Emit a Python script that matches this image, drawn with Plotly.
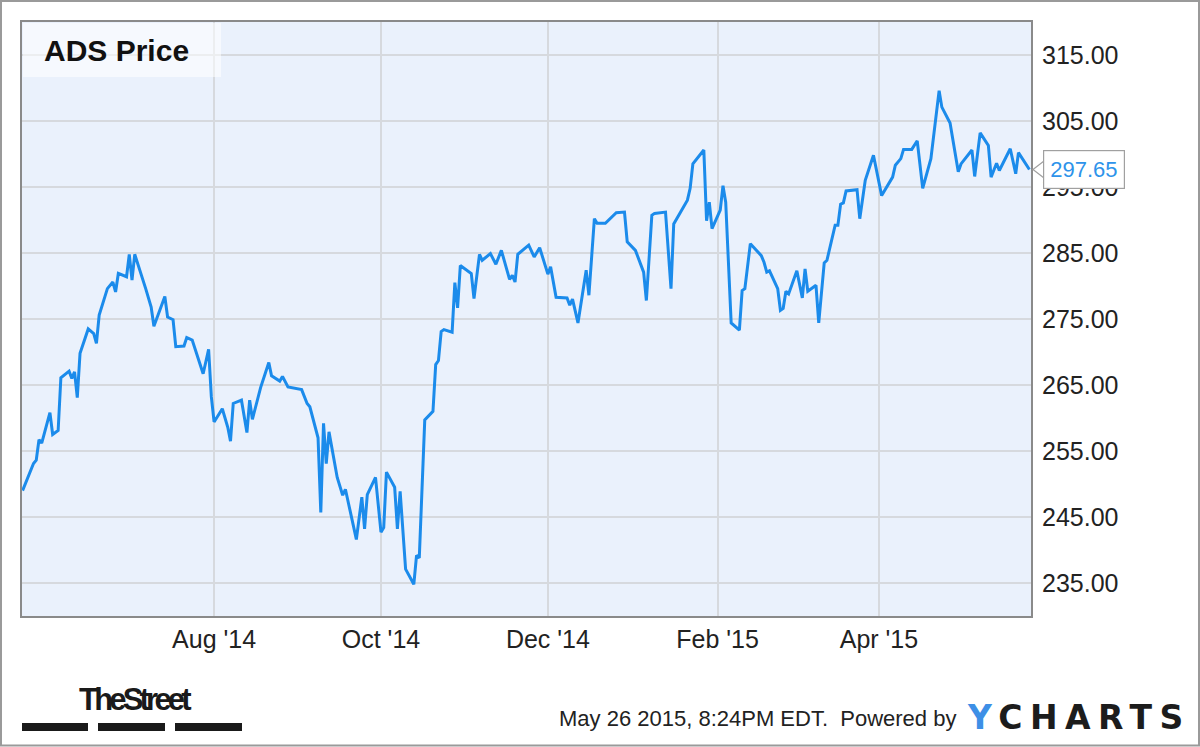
import plotly.graph_objects as go

# ADS daily close (May 2014 - May 2015)
dates = [
    "2014-05-23", "2014-05-27", "2014-05-28", "2014-05-29", "2014-05-30",
    "2014-06-02", "2014-06-03", "2014-06-05", "2014-06-06", "2014-06-09",
    "2014-06-10", "2014-06-11", "2014-06-12", "2014-06-13", "2014-06-16",
    "2014-06-18", "2014-06-19", "2014-06-20", "2014-06-23", "2014-06-25",
    "2014-06-26", "2014-06-27", "2014-06-30", "2014-07-01", "2014-07-02",
    "2014-07-03", "2014-07-07", "2014-07-09", "2014-07-10", "2014-07-14",
    "2014-07-15", "2014-07-17", "2014-07-18", "2014-07-21", "2014-07-22",
    "2014-07-24", "2014-07-28", "2014-07-30", "2014-07-31", "2014-08-01",
    "2014-08-04", "2014-08-06", "2014-08-07", "2014-08-08", "2014-08-11",
    "2014-08-13", "2014-08-14", "2014-08-15", "2014-08-18", "2014-08-21",
    "2014-08-22", "2014-08-25", "2014-08-26", "2014-08-28", "2014-09-02",
    "2014-09-04", "2014-09-05", "2014-09-08", "2014-09-09", "2014-09-10",
    "2014-09-11", "2014-09-12", "2014-09-15", "2014-09-17", "2014-09-18",
    "2014-09-22", "2014-09-24", "2014-09-25", "2014-09-26", "2014-09-29",
    "2014-10-01", "2014-10-02", "2014-10-03", "2014-10-06", "2014-10-07",
    "2014-10-08", "2014-10-10", "2014-10-13", "2014-10-14", "2014-10-15",
    "2014-10-17", "2014-10-20", "2014-10-21", "2014-10-22", "2014-10-23",
    "2014-10-24", "2014-10-27", "2014-10-28", "2014-10-29", "2014-10-30",
    "2014-11-03", "2014-11-04", "2014-11-06", "2014-11-07", "2014-11-10",
    "2014-11-12", "2014-11-14", "2014-11-17", "2014-11-18", "2014-11-19",
    "2014-11-20", "2014-11-24", "2014-11-26", "2014-11-28", "2014-12-01",
    "2014-12-02", "2014-12-04", "2014-12-08", "2014-12-09", "2014-12-10",
    "2014-12-12", "2014-12-15", "2014-12-16", "2014-12-18", "2014-12-19",
    "2014-12-22", "2014-12-26", "2014-12-29", "2014-12-30", "2015-01-02",
    "2015-01-05", "2015-01-06", "2015-01-08", "2015-01-09", "2015-01-13",
    "2015-01-15", "2015-01-16", "2015-01-21", "2015-01-22", "2015-01-23",
    "2015-01-27", "2015-01-28", "2015-01-29", "2015-01-30", "2015-02-02",
    "2015-02-03", "2015-02-04", "2015-02-06", "2015-02-09", "2015-02-10",
    "2015-02-11", "2015-02-13", "2015-02-17", "2015-02-18", "2015-02-19",
    "2015-02-20", "2015-02-23", "2015-02-24", "2015-02-25", "2015-02-26",
    "2015-02-27", "2015-03-02", "2015-03-04", "2015-03-05", "2015-03-06",
    "2015-03-09", "2015-03-10", "2015-03-12", "2015-03-13", "2015-03-16",
    "2015-03-17", "2015-03-18", "2015-03-19", "2015-03-20", "2015-03-24",
    "2015-03-25", "2015-03-27", "2015-03-30", "2015-04-02", "2015-04-06",
    "2015-04-07", "2015-04-09", "2015-04-10", "2015-04-13", "2015-04-15",
    "2015-04-17", "2015-04-20", "2015-04-23", "2015-04-24", "2015-04-27",
    "2015-04-30", "2015-05-01", "2015-05-05", "2015-05-06", "2015-05-08",
    "2015-05-11", "2015-05-12", "2015-05-14", "2015-05-15", "2015-05-19",
    "2015-05-21", "2015-05-22", "2015-05-26",
]
prices = [
    249.0, 253.1, 253.6, 256.7, 256.2,
    260.8, 257.5, 258.1, 266.1, 267.1,
    266.0, 267.0, 263.1, 269.8, 273.5,
    272.8, 271.3, 275.6, 279.6, 280.6,
    279.1, 281.9, 281.4, 284.8, 280.9,
    284.8, 279.6, 276.8, 273.9, 278.4,
    275.3, 274.9, 270.8, 270.9, 272.2,
    271.8, 266.7, 270.4, 263.2, 259.4,
    261.4, 258.6, 256.5, 262.2, 262.7,
    257.8, 262.7, 259.8, 264.6, 268.4,
    266.4, 265.6, 266.3, 264.7, 264.3,
    262.2, 261.7, 257.0, 245.7, 259.2,
    253.1, 257.9, 251.0, 248.3, 249.2,
    241.6, 248.0, 243.2, 248.4, 251.0,
    242.7, 243.4, 251.8, 249.5, 243.2,
    248.9, 237.1, 234.8, 239.2, 238.8,
    259.7, 261.0, 268.1, 268.7, 273.1,
    273.4, 273.0, 280.5, 276.7, 283.1,
    281.9, 278.1, 284.8, 283.9, 284.9,
    283.3, 285.4, 281.0, 281.6, 280.6,
    284.8, 286.2, 284.4, 285.8, 281.8,
    282.9, 278.3, 278.2, 277.1, 278.0,
    274.4, 282.4, 278.6, 290.2, 289.5,
    289.5, 291.1, 291.2, 286.7, 285.4,
    282.1, 277.8, 290.7, 291.0, 291.2,
    279.6, 289.4, 293.0, 294.8, 298.5,
    300.6, 289.9, 292.7, 288.7, 291.5,
    295.2, 292.7, 274.4, 273.3, 279.3,
    279.6, 286.4, 284.6, 283.6, 282.1,
    282.3, 279.6, 276.3, 276.6, 279.2,
    278.8, 282.3, 278.2, 282.6, 279.2,
    280.1, 274.4, 283.5, 283.9, 289.2,
    289.2, 292.4, 292.6, 294.4, 294.6,
    290.2, 296.0, 299.8, 293.7, 296.5,
    298.3, 299.3, 300.7, 300.7, 302.0,
    294.8, 299.3, 309.6, 307.1, 304.7,
    297.3, 298.5, 300.6, 296.6, 303.2,
    301.3, 296.5, 298.6, 297.5, 300.8,
    297.0, 300.2, 297.65,
]

x_ticks = ["2014-08-01", "2014-10-01", "2014-12-01", "2015-02-01", "2015-04-01"]
x_tick_labels = ["Aug '14", "Oct '14", "Dec '14", "Feb '15", "Apr '15"]
y_ticks = [235, 245, 255, 265, 275, 285, 295, 305, 315]
y_tick_labels = ["%.2f" % v for v in y_ticks]

last_price = prices[-1]
title = "ADS Price"
stamp = "May 26 2015, 8:24PM EDT.  Powered by"

W, H = 1200, 747
L, T, R, B = 22, 22, 1031, 616  # plot area in pixels


def px(x):
    return (x - L) / (R - L)


def py(y):
    return (B - y) / (B - T)


LINE_BLUE = "#1b8beb"
FONT = "Liberation Sans, Arial, sans-serif"

fig = go.Figure()
fig.add_trace(go.Scatter(
    x=dates, y=prices, mode="lines",
    line=dict(color=LINE_BLUE, width=3),
    hoverinfo="x+y", showlegend=False,
))

shapes = [
    # outer frame of the image
    dict(type="rect", xref="paper", yref="paper",
         x0=px(1), x1=px(1199), y0=py(745.5), y1=py(1),
         line=dict(color="#9a9a9a", width=2), fillcolor="rgba(0,0,0,0)", layer="above"),
    # translucent title box
    dict(type="rect", xref="paper", yref="paper",
         x0=px(L + 1), x1=px(221), y0=py(77), y1=py(T + 1),
         line=dict(width=0), fillcolor="rgba(255,255,255,0.55)", layer="above"),
    # pointer of the last-value tag
    dict(type="path", xref="paper", yref="y",
         path="M %f,%f L %f,%f L %f,%f Z" % (
             px(R + 2), last_price, px(1044), last_price + 1.3, px(1044), last_price - 1.3),
         line=dict(color="#a0a0a0", width=1.2), fillcolor="white", layer="above"),
]
# TheStreet underline bars
for bx0, bx1 in [(22, 88), (98, 165), (175, 242)]:
    shapes.append(dict(type="rect", xref="paper", yref="paper",
                       x0=px(bx0), x1=px(bx1), y0=py(731), y1=py(723),
                       line=dict(width=0), fillcolor="#1a1a1a"))

annotations = [
    dict(text="<b>%s</b>" % title, xref="paper", yref="paper",
         x=px(42), y=py(50), xanchor="left", yanchor="middle", showarrow=False,
         font=dict(family=FONT, size=30, color="#111")),
    dict(text=f"{last_price:.2f}", xref="paper", yref="y", x=px(1043), y=last_price,
         xanchor="left", yanchor="middle", showarrow=False,
         font=dict(family=FONT, size=22, color="#2e93ea"),
         bgcolor="white", bordercolor="#a0a0a0", borderwidth=1.2, borderpad=6),
    dict(text="<b><span style='letter-spacing:-3.8px'>TheStreet</span></b>",
         xref="paper", yref="paper", x=px(77), y=py(699),
         xanchor="left", yanchor="middle", showarrow=False,
         font=dict(family=FONT, size=31, color="#1a1a1a")),
    dict(text=stamp, xref="paper", yref="paper", x=px(958), y=py(718),
         xanchor="right", yanchor="middle", showarrow=False,
         font=dict(family=FONT, size=22, color="#222")),
    dict(text="<b><span style='letter-spacing:7.5px'><span style='color:#3d8fe6'>Y</span>CHARTS</span></b>",
         xref="paper", yref="paper",
         x=px(965), y=py(717), xanchor="left", yanchor="middle", showarrow=False,
         font=dict(family="DejaVu Sans, " + FONT, size=33, color="#1c1c1c")),
]

fig.update_layout(
    width=W, height=H,
    margin=dict(l=L, r=W - R, t=T, b=H - B, pad=0),
    paper_bgcolor="white",
    plot_bgcolor="#eaf1fc",
    font=dict(family=FONT, color="#222"),
    shapes=shapes,
    annotations=annotations,
    xaxis=dict(
        type="date",
        range=["2014-05-22 19:00", "2015-05-26 14:00"],
        tickvals=x_ticks, ticktext=x_tick_labels,
        tickfont=dict(size=25, color="#222"),
        showgrid=True, gridcolor="#d6d9de", gridwidth=1.5,
        showline=True, linecolor="#8a8a8a", linewidth=2, mirror=True,
        ticks="", zeroline=False,
    ),
    yaxis=dict(
        range=[230, 320], side="right",
        tickvals=y_ticks, ticktext=y_tick_labels,
        tickfont=dict(size=25, color="#222"),
        showgrid=True, gridcolor="#d6d9de", gridwidth=1.5,
        showline=True, linecolor="#8a8a8a", linewidth=2, mirror=True,
        ticks="outside", ticklen=4, tickcolor="rgba(0,0,0,0)", zeroline=False,
    ),
)

# drop the default page margin so the figure sits at the window's corner
fig.write_html("out.html", config={"displayModeBar": False},
               post_script="document.body.style.margin = '0';")
